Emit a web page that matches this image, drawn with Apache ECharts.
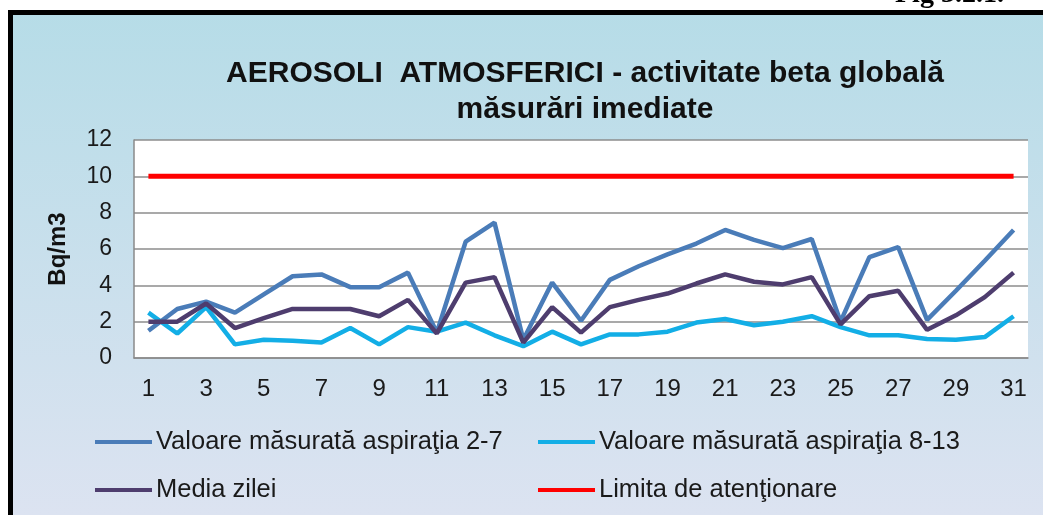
<!DOCTYPE html>
<html>
<head>
<meta charset="utf-8">
<script src="https://cdn.jsdelivr.net/npm/echarts@6/dist/echarts.min.js"></script>
<style>
html,body{margin:0;padding:0;background:#fff;}
#chart{width:1043px;height:515px;}
</style>
</head>
<body>
<div id="chart"></div>
<script>
const days = ['1','2','3','4','5','6','7','8','9','10','11','12','13','14','15','16','17','18','19','20','21','22','23','24','25','26','27','28','29','30','31'];
const aspiratia27 = [1.5,2.7,3.1,2.5,3.5,4.5,4.6,3.9,3.9,4.7,1.4,6.4,7.45,1.0,4.15,2.05,4.3,5.05,5.7,6.3,7.05,6.5,6.05,6.55,2.0,5.55,6.1,2.1,3.7,5.35,7.05];
const aspiratia813 = [2.5,1.35,2.8,0.75,1.0,0.95,0.85,1.65,0.75,1.7,1.45,1.95,1.25,0.65,1.45,0.75,1.3,1.3,1.45,1.95,2.15,1.8,2.0,2.3,1.7,1.25,1.25,1.05,1.0,1.15,2.3];
const mediaZilei = [2.0,2.0,3.0,1.65,2.2,2.7,2.7,2.7,2.3,3.2,1.35,4.15,4.45,0.85,2.8,1.4,2.8,3.2,3.55,4.1,4.6,4.2,4.05,4.45,1.85,3.4,3.7,1.55,2.35,3.35,4.7];
const limita = [10,10,10,10,10,10,10,10,10,10,10,10,10,10,10,10,10,10,10,10,10,10,10,10,10,10,10,10,10,10,10];
const yTicks = {min: 0, max: 12, interval: 2};
const names = ['Valoare măsurată aspiraţia 2-7','Valoare măsurată aspiraţia 8-13','Media zilei','Limita de atenţionare'];
const colors = ['#4A7CB8','#13AEE6','#4E3D6E','#FF0000'];

const chart = echarts.init(document.getElementById('chart'), null, {renderer:'canvas'});
const font = 'Liberation Sans, Arial, sans-serif';
function legendAt(name, left, top){
  return {
    data:[name], left:left, top:top, orient:'horizontal',
    icon:'rect', itemWidth:57, itemHeight:4, itemGap:0, padding:0,
    textStyle:{fontFamily:font, fontSize:25.5, color:'#1a1a1a', padding:[0,0,0,-1]}
  };
}
const option = {
  backgroundColor: {type:'linear', x:0, y:0, x2:0, y2:1, colorStops:[{offset:0,color:'#B5DCE7'},{offset:1,color:'#DCE3F1'}]},
  animation:false,
  title:{
    text:'AEROSOLI  ATMOSFERICI - activitate beta globală\nmăsurări imediate',
    left:580, top:51, textAlign:'center',
    textStyle:{fontFamily:font, fontSize:30, fontWeight:'bold', color:'#111', lineHeight:36}
  },
  legend:[
    legendAt(names[0], 95, 429),
    legendAt(names[1], 538, 429),
    legendAt(names[2], 95, 477),
    legendAt(names[3], 538, 477)
  ],
  grid:{left:134, right:15, top:140, bottom:157, show:true, backgroundColor:'#ffffff', borderWidth:0},
  xAxis:{
    type:'category', data:days, boundaryGap:true,
    axisLine:{lineStyle:{color:'#8a8a8a', width:1.5}},
    axisTick:{alignWithLabel:true, inside:true, length:5, interval:0, lineStyle:{color:'#8a8a8a'}},
    axisLabel:{interval:1, fontFamily:font, fontSize:24, color:'#1a1a1a', margin:19}
  },
  yAxis:{
    type:'value', min:yTicks.min, max:yTicks.max, interval:yTicks.interval,
    name:'Bq/m3', nameLocation:'middle', nameRotate:90, nameGap:64,
    nameTextStyle:{fontFamily:font, fontSize:24, fontWeight:'bold', color:'#111'},
    axisLine:{show:true, lineStyle:{color:'#8a8a8a', width:1.5}},
    axisTick:{show:false},
    splitLine:{lineStyle:{color:'#8c8c8c', width:1.5}},
    axisLabel:{fontFamily:font, fontSize:23, color:'#1a1a1a', margin:22}
  },
  graphic:[
    {type:'rect', shape:{x:0,y:0,width:1043,height:10}, style:{fill:'#fff'}, silent:true},
    {type:'rect', shape:{x:0,y:0,width:8,height:515}, style:{fill:'#fff'}, silent:true},
    {type:'rect', shape:{x:8,y:10,width:1035,height:5}, style:{fill:'#000'}, silent:true},
    {type:'rect', shape:{x:8,y:10,width:5,height:505}, style:{fill:'#000'}, silent:true},
    {type:'text', left:895, top:-19, style:{text:'Fig 3.2.1.', font:'bold 28px "Liberation Serif", "Times New Roman", serif', fill:'#000'}, silent:true}
  ],
  series:[
    {name:names[0], type:'line', data:aspiratia27, symbol:'none', lineStyle:{width:4.5, color:colors[0]}, itemStyle:{color:colors[0]}, z:4},
    {name:names[1], type:'line', data:aspiratia813, symbol:'none', lineStyle:{width:4.5, color:colors[1]}, itemStyle:{color:colors[1]}, z:3},
    {name:names[2], type:'line', data:mediaZilei, symbol:'none', lineStyle:{width:4.5, color:colors[2]}, itemStyle:{color:colors[2]}, z:5},
    {name:names[3], type:'line', data:limita, symbol:'none', lineStyle:{width:5, color:colors[3]}, itemStyle:{color:colors[3]}, z:6}
  ]
};
chart.setOption(option);
</script>
</body>
</html>
